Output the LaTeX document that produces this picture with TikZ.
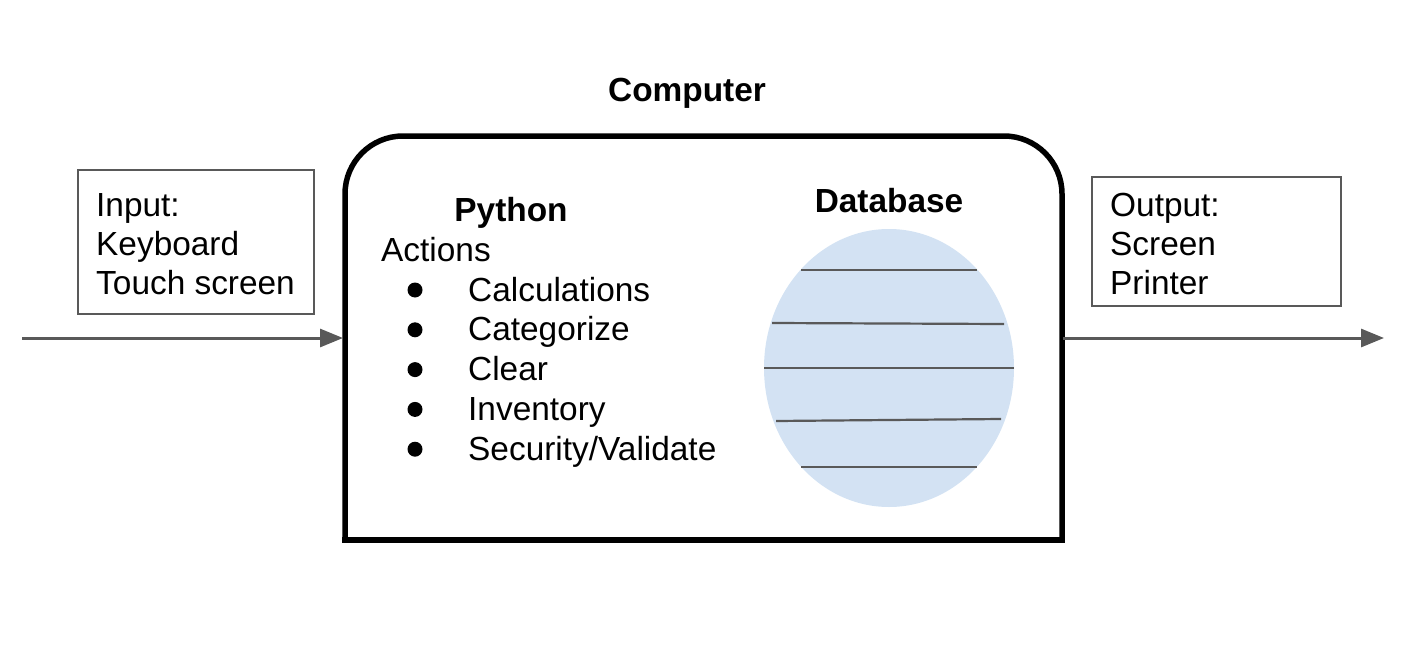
\documentclass[tikz,border=0pt]{standalone}
\usepackage{fontspec}
\setmainfont{Liberation Sans}
\usetikzlibrary{arrows.meta}
\definecolor{linegray}{HTML}{595959}
\definecolor{dbblue}{HTML}{D3E2F3}
\tikzset{
  txt/.style={anchor=base west, inner sep=0pt, font=\fontsize{33.4}{39}\selectfont},
  boldtxt/.style={anchor=base, inner sep=0pt, font=\fontsize{33.4}{39}\selectfont\bfseries},
  iobox/.style={draw=linegray, line width=1.8pt},
  flow/.style={draw=linegray, line width=3pt, -{Triangle[length=23pt,width=18pt]}},
  dbline/.style={draw=linegray, line width=2.2pt},
  bulletdot/.style={fill=black, circle, inner sep=0pt, minimum size=15pt}
}
\begin{document}
\begin{tikzpicture}[x=1pt,y=-1pt]
\useasboundingbox (0,0) rectangle (1412,650);
% computer box
\draw[line width=5.5pt, rounded corners=58pt] (345,540) -- (345,136) -- (1062,136) -- (1062,540);
\draw[line width=5.5pt] (342.25,540) -- (1064.75,540);
\coordinate (cl) at (343,338);
\coordinate (cr) at (1063,338);
\coordinate (inS) at (22,338);
\coordinate (outE) at (1384,338);
\draw[flow] (inS) -- (cl);
\draw[flow] (cr) -- (outE);
% titles
\node[boldtxt] (comp) at (687,102) {Computer};
\node[boldtxt] (py) at (511,221) {Python};
\node[boldtxt] (db) at (889,212) {Database};
% input / output boxes
\draw[iobox] (78,170) rectangle (314,314);
\node[txt] (in1) at (96,216) {Input:};
\node[txt] (in2) at (96,255) {Keyboard};
\node[txt] (in3) at (96,294) {Touch screen};
\draw[iobox] (1092,177) rectangle (1341,306);
\node[txt] (out1) at (1110,216) {Output:};
\node[txt] (out2) at (1110,255) {Screen};
\node[txt] (out3) at (1110,294) {Printer};
% actions
\node[txt] (act) at (381,261) {Actions};
\foreach \t [count=\i] in {Calculations,Categorize,Clear,Inventory,Security/Validate}{
  \node[bulletdot] (b\i) at (415,{290+39.8*(\i-1)}) {};
  \node[txt] (a\i) at (468,{301+39.8*(\i-1)}) {\t};
}
% database
\fill[dbblue] (889,368) ellipse [x radius=125, y radius=139];
\draw[dbline] (801,270) -- (977,270);
\draw[dbline] (772,323) -- (1004,324);
\draw[dbline] (764,368) -- (1014,368);
\draw[dbline] (776,421) -- (1001,419);
\draw[dbline] (801,467) -- (977,467);
\end{tikzpicture}
\end{document}
